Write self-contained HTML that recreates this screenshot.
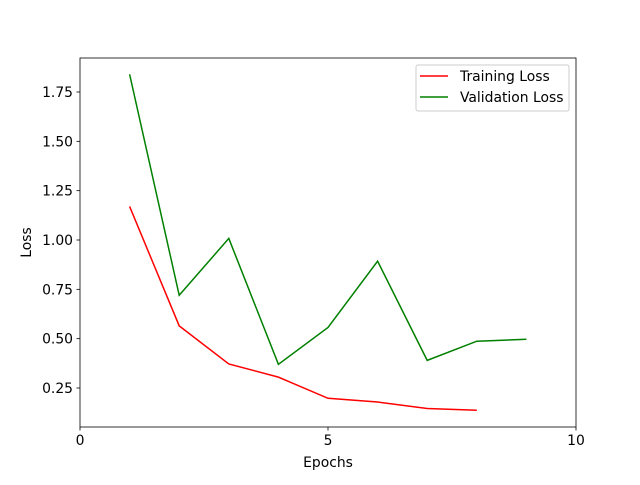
<!DOCTYPE html>
<html><head><meta charset="utf-8"><style>
body{margin:0;background:#fff}
svg text{font-family:"DejaVu Sans","Liberation Sans",sans-serif;font-size:13.9px;fill:#000}
</style></head><body>
<svg id="c" width="640" height="480" xmlns="http://www.w3.org/2000/svg">
<rect x="0" y="0" width="640" height="480" fill="#fff"/>
<g id="plot"></g>
<rect x="80" y="58" width="496" height="369" fill="none" stroke="#000" stroke-width="0.8"/>
<text x="328" y="467" text-anchor="middle">Epochs</text>
<text transform="translate(31,242.5) rotate(-90)" text-anchor="middle">Loss</text>
<g>
<rect x="416" y="65" width="153" height="46" rx="2" fill="#fff" fill-opacity="0.8" stroke="#ccc" stroke-width="1"/>
<line x1="420" y1="76" x2="448" y2="76" stroke="red" stroke-width="1.5"/>
<text x="460" y="81">Training Loss</text>
<line x1="420" y1="97" x2="448" y2="97" stroke="green" stroke-width="1.5"/>
<text x="460" y="102">Validation Loss</text>
</g>
</svg>
<script>
const epochsTrain=[1,2,3,4,5,6,7,8];
const trainLoss=[1.17,0.565,0.372,0.305,0.198,0.179,0.146,0.137];
const epochsVal=[1,2,3,4,5,6,7,8,9];
const valLoss=[1.84,0.72,1.008,0.37,0.557,0.893,0.39,0.487,0.497];
const xTicks=[0,5,10];
const yTicks=[0.25,0.5,0.75,1.0,1.25,1.5,1.75];
const xs=v=>80+v*49.6;
const ys=v=>388-(v-0.25)*197.33;
const NS="http://www.w3.org/2000/svg";
const g=document.getElementById('plot');
function mk(t,a){const e=document.createElementNS(NS,t);for(const k in a)e.setAttribute(k,a[k]);g.appendChild(e);return e;}
xTicks.forEach(v=>{
 const l=mk('line',{x1:xs(v),x2:xs(v),y1:427,y2:430.5,stroke:'#000','stroke-width':0.8});
 
 
 const t=mk('text',{x:xs(v),y:445,'text-anchor':'middle'});t.textContent=v;
 
 
});
yTicks.forEach(v=>{
 const l=mk('line',{x1:76.5,x2:80,y1:ys(v),y2:ys(v),stroke:'#000','stroke-width':0.8});
 
 
 const t=mk('text',{x:73,y:ys(v)+5,'text-anchor':'end'});t.textContent=v.toFixed(2);
 
 
});
const p1=mk('polyline',{points:epochsTrain.map((e,i)=>xs(e)+','+ys(trainLoss[i])).join(' '),fill:'none',stroke:'red','stroke-width':1.5});


const p2=mk('polyline',{points:epochsVal.map((e,i)=>xs(e)+','+ys(valLoss[i])).join(' '),fill:'none',stroke:'green','stroke-width':1.5});


</script>
</body></html>
